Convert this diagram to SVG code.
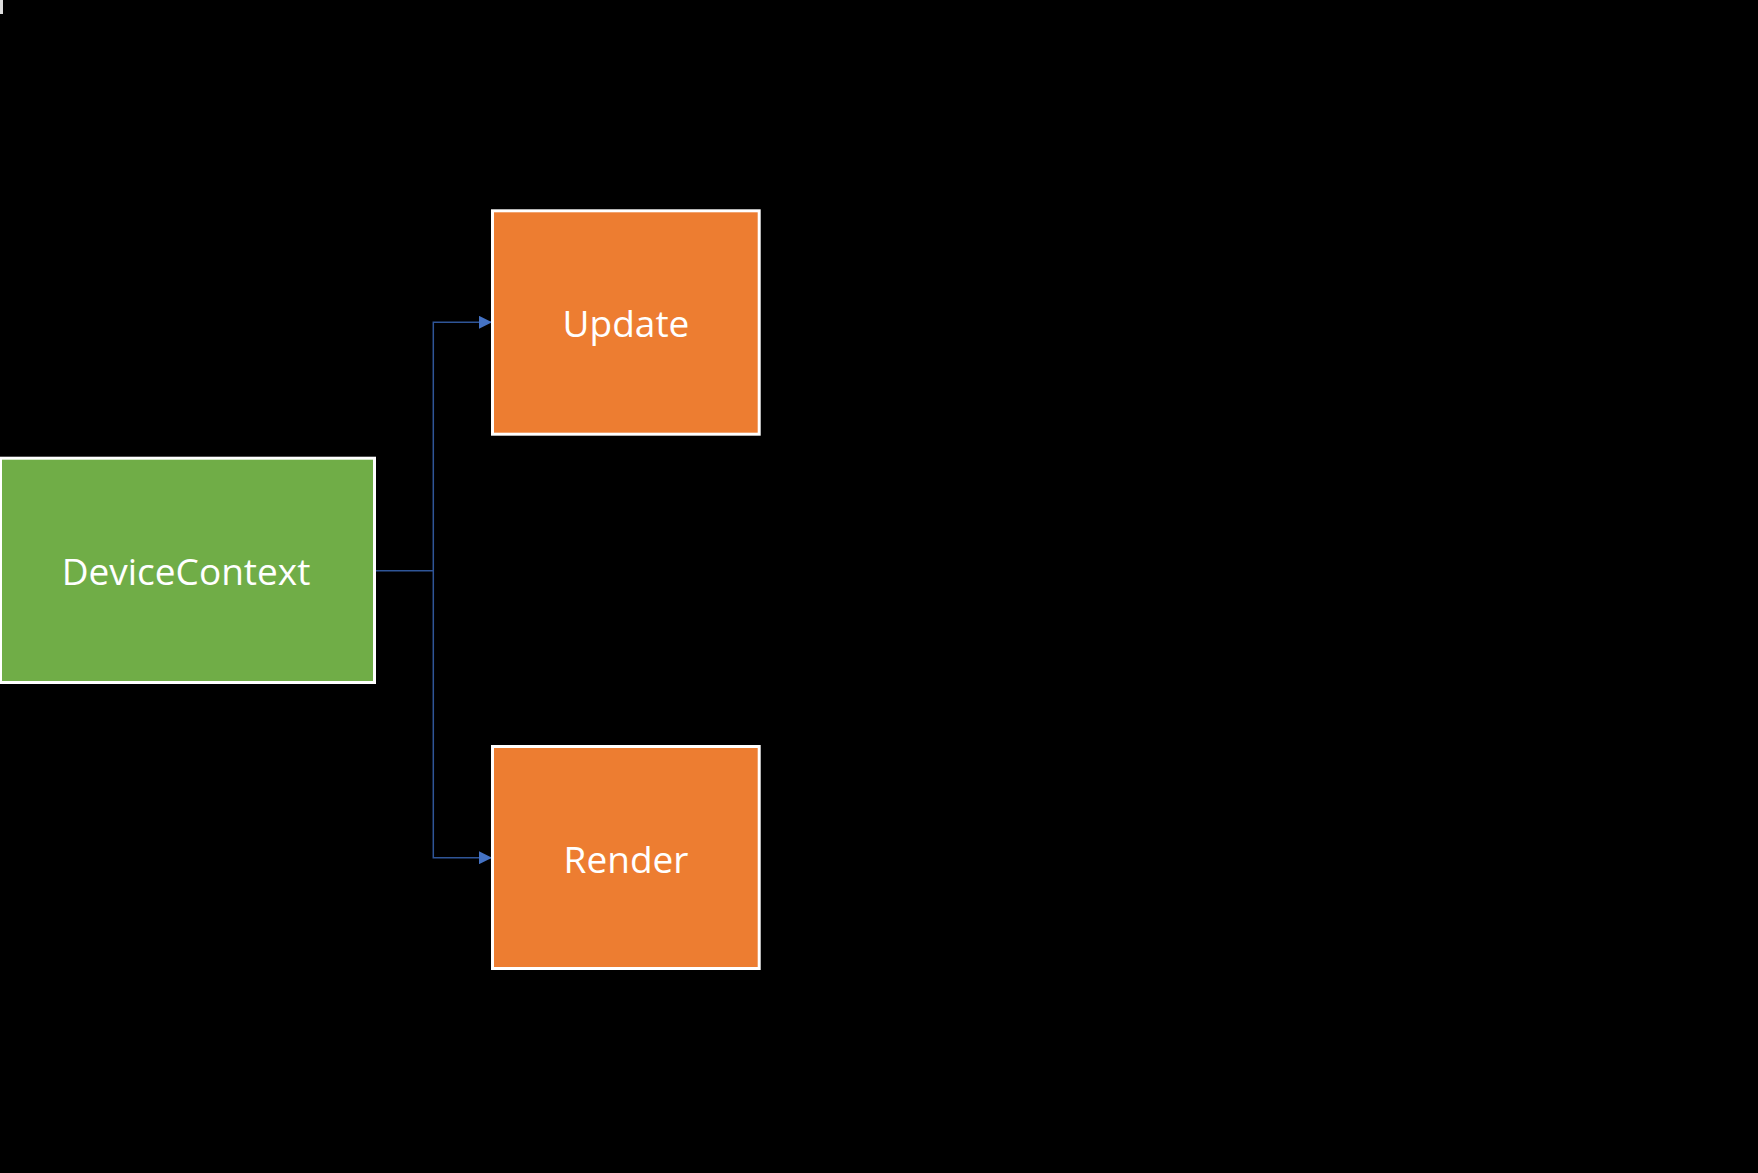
<svg xmlns="http://www.w3.org/2000/svg" width="1758" height="1173" viewBox="0 0 1758 1173">
<style>
.box{stroke:#FFFFFF;stroke-width:3}
.green{fill:#70AD47}
.orange{fill:#ED7D31}
.label{font-family:"Open Sans","Liberation Sans",sans-serif;font-size:37px;fill:#FFFFFF;text-anchor:middle}
.conn{fill:none;stroke:#2F5597;stroke-width:1.5}
</style>
<defs>
<marker id="arrow" markerUnits="userSpaceOnUse" markerWidth="13" markerHeight="13" viewBox="0 0 12 12" refX="12" refY="6" orient="auto">
<path d="M0,0 L12,6 L0,12 Z" fill="#4472C4"/>
</marker>
</defs>
<rect x="0" y="0" width="1758" height="1173" fill="#000000"/>
<rect x="0" y="0" width="3" height="14" fill="#DDDDDD"/>
<g id="connectors">
<path class="conn" d="M376,570.7 H433.3 V322.3 H492" marker-end="url(#arrow)"/>
<path class="conn" d="M433.3,570.7 V857.7 H492" marker-end="url(#arrow)"/>
</g>
<g id="node-devicecontext">
<rect class="box green" x="0.5" y="458.2" width="374" height="224.3"/>
<text class="label" x="186" y="584.5">DeviceContext</text>
</g>
<g id="node-update">
<rect class="box orange" x="492.5" y="210.8" width="266.7" height="223.4"/>
<text class="label" x="626" y="336.5">Update</text>
</g>
<g id="node-render">
<rect class="box orange" x="492.5" y="746.5" width="266.7" height="222"/>
<text class="label" x="626" y="872.5">Render</text>
</g>
</svg>
